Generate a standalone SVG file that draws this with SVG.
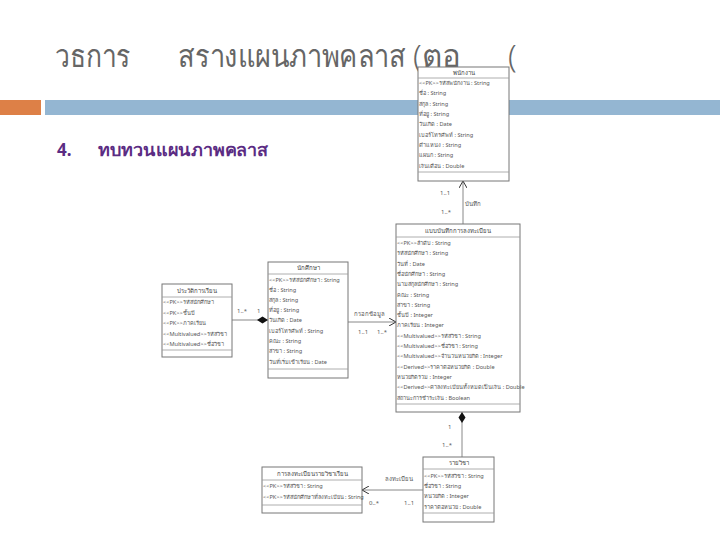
<svg xmlns="http://www.w3.org/2000/svg" width="720" height="540" viewBox="0 0 720 540">
<defs>
<style>
.title{font-family:"Noto Sans","DejaVu Sans",sans-serif;font-size:31px;fill:#666;font-weight:300}
.sub{font-family:"Noto Sans","DejaVu Sans",sans-serif;font-size:17px;fill:#5b2c83;font-weight:bold}
.box{fill:#fff;stroke:#777;stroke-width:1}
.sep{stroke:#999;stroke-width:0.8}
.cn{font-family:"Noto Sans","DejaVu Sans",sans-serif;font-size:6px;fill:#444;text-anchor:middle}
.at{font-family:"Noto Sans","DejaVu Sans",sans-serif;font-size:5.6px;fill:#555}
.lbl{font-family:"Noto Sans","DejaVu Sans",sans-serif;font-size:6px;fill:#555}
.line{stroke:#888;stroke-width:1;fill:none}
</style>
<marker id="open" markerWidth="8" markerHeight="8" refX="7" refY="4" orient="auto" markerUnits="userSpaceOnUse">
<path d="M0,0 L7,4 L0,8" fill="none" stroke="#333" stroke-width="1"/>
</marker>
<marker id="dia" markerWidth="12" markerHeight="8" refX="11" refY="4" orient="auto" markerUnits="userSpaceOnUse">
<path d="M0,4 L5.5,0.5 L11,4 L5.5,7.5 Z" fill="#111"/>
</marker>
</defs>
<rect width="720" height="540" fill="#fff"/>
<g id="header">
<text class="title" x="55" y="67" textLength="76" lengthAdjust="spacingAndGlyphs">วธการ</text>
<text class="title" x="178" y="67" textLength="228" lengthAdjust="spacingAndGlyphs">สรางแผนภาพคลาส</text>
<text class="title" x="413" y="67" textLength="48" lengthAdjust="spacingAndGlyphs">(ตอ</text>
<text class="title" x="508" y="67">(</text>
<rect x="0" y="100" width="41" height="15" fill="#dd8047"/>
<rect x="45" y="100" width="675" height="15" fill="#94b6d2"/>
<text class="sub" x="57" y="156">4.</text>
<text class="sub" x="98" y="156" textLength="170" lengthAdjust="spacingAndGlyphs">ทบทวนแผนภาพคลาส</text>
</g>
<g id="connectors">
<line class="line" x1="463" y1="224" x2="463" y2="181" marker-end="url(#open)"/>
<text class="lbl" x="440" y="195">1..1</text>
<text class="lbl" x="465" y="206">บันทึก</text>
<text class="lbl" x="441" y="214">1..*</text>
<line class="line" x1="232" y1="320" x2="268" y2="320" marker-end="url(#dia)"/>
<text class="lbl" x="237" y="313">1..*</text>
<text class="lbl" x="257" y="313">1</text>
<line class="line" x1="348" y1="322" x2="396" y2="322" marker-end="url(#open)"/>
<text class="lbl" x="354" y="316">กรอกข้อมูล</text>
<text class="lbl" x="358" y="334">1..1</text>
<text class="lbl" x="377" y="334">1..*</text>
<line class="line" x1="462" y1="457" x2="462" y2="412" marker-end="url(#dia)"/>
<text class="lbl" x="448" y="429">1</text>
<text class="lbl" x="442" y="447">1..*</text>
<line class="line" x1="423" y1="490" x2="362" y2="490" marker-end="url(#open)"/>
<text class="lbl" x="385" y="481">ลงทะเบียน</text>
<text class="lbl" x="369" y="505">0..*</text>
<text class="lbl" x="404" y="505">1..1</text>
</g>
<g id="employee">
<rect class="box" x="418" y="67" width="91" height="114"/>
<text class="cn" x="463.5" y="74.5">พนักงาน</text>
<line class="sep" x1="418" y1="78" x2="509" y2="78"/>
<text class="at" x="419" y="85">&lt;&lt;PK&gt;&gt;รหัสพนักงาน : String</text>
<text class="at" x="419" y="95">ชื่อ : String</text>
<text class="at" x="419" y="105.5">สกุล : String</text>
<text class="at" x="419" y="116">ที่อยู่ : String</text>
<text class="at" x="419" y="126">วันเกิด : Date</text>
<text class="at" x="419" y="136.5">เบอร์โทรศัพท์ : String</text>
<text class="at" x="419" y="147">ตำแหน่ง : String</text>
<text class="at" x="419" y="157">แผนก : String</text>
<text class="at" x="419" y="167.5">เงินเดือน : Double</text>
<line class="sep" x1="418" y1="172" x2="509" y2="172"/>
</g>
<g id="registration">
<rect class="box" x="396" y="224" width="124" height="188"/>
<text class="cn" x="458" y="232.5">แบบบันทึกการลงทะเบียน</text>
<line class="sep" x1="396" y1="237" x2="520" y2="237"/>
<text class="at" x="397" y="245">&lt;&lt;PK&gt;&gt;ลำดับ : String</text>
<text class="at" x="397" y="255.3">รหัสนักศึกษา : String</text>
<text class="at" x="397" y="265.6">วันที่ : Date</text>
<text class="at" x="397" y="275.9">ชื่อนักศึกษา : String</text>
<text class="at" x="397" y="286.2">นามสกุลนักศึกษา : String</text>
<text class="at" x="397" y="296.5">คณะ : String</text>
<text class="at" x="397" y="306.8">สาขา : String</text>
<text class="at" x="397" y="317.1">ชั้นปี : Integer</text>
<text class="at" x="397" y="327.4">ภาคเรียน : Integer</text>
<text class="at" x="397" y="337.7">&lt;&lt;Multivalued&gt;&gt;รหัสวิชา : String</text>
<text class="at" x="397" y="348">&lt;&lt;Multivalued&gt;&gt;ชื่อวิชา : String</text>
<text class="at" x="397" y="358.3">&lt;&lt;Multivalued&gt;&gt;จำนวนหน่วยกิต : Integer</text>
<text class="at" x="397" y="368.6">&lt;&lt;Derived&gt;&gt;ราคาต่อหน่วยกิต : Double</text>
<text class="at" x="397" y="378.9">หน่วยกิตรวม : Integer</text>
<text class="at" x="397" y="389.2">&lt;&lt;Derived&gt;&gt;ค่าลงทะเบียนทั้งหมดเป็นเงิน : Double</text>
<text class="at" x="397" y="399.5">สถานะการชำระเงิน : Boolean</text>
<line class="sep" x1="396" y1="404" x2="520" y2="404"/>
</g>
<g id="history">
<rect class="box" x="162" y="284" width="70" height="73"/>
<text class="cn" x="197" y="292.5">ประวัติการเรียน</text>
<line class="sep" x1="162" y1="297" x2="232" y2="297"/>
<text class="at" x="163" y="304">&lt;&lt;PK&gt;&gt;รหัสนักศึกษา</text>
<text class="at" x="163" y="314.5">&lt;&lt;PK&gt;&gt;ชั้นปี</text>
<text class="at" x="163" y="325">&lt;&lt;PK&gt;&gt;ภาคเรียน</text>
<text class="at" x="163" y="335.5">&lt;&lt;Multivalued&gt;&gt;รหัสวิชา</text>
<text class="at" x="163" y="346">&lt;&lt;Multivalued&gt;&gt;ชื่อวิชา</text>
<line class="sep" x1="162" y1="350" x2="232" y2="350"/>
</g>
<g id="student">
<rect class="box" x="268" y="262" width="80" height="116"/>
<text class="cn" x="308" y="270">นักศึกษา</text>
<line class="sep" x1="268" y1="274" x2="348" y2="274"/>
<text class="at" x="269" y="281.5">&lt;&lt;PK&gt;&gt;รหัสนักศึกษา : String</text>
<text class="at" x="269" y="291.5">ชื่อ : String</text>
<text class="at" x="269" y="301.5">สกุล : String</text>
<text class="at" x="269" y="311.5">ที่อยู่ : String</text>
<text class="at" x="269" y="322">วันเกิด : Date</text>
<text class="at" x="269" y="332.5">เบอร์โทรศัพท์ : String</text>
<text class="at" x="269" y="343">คณะ : String</text>
<text class="at" x="269" y="353">สาขา : String</text>
<text class="at" x="269" y="363.5">วันที่เริ่มเข้าเรียน : Date</text>
<line class="sep" x1="268" y1="369" x2="348" y2="369"/>
</g>
<g id="course">
<rect class="box" x="423" y="457" width="71" height="65"/>
<text class="cn" x="458.5" y="465">รายวิชา</text>
<line class="sep" x1="423" y1="469" x2="494" y2="469"/>
<text class="at" x="424" y="477.5">&lt;&lt;PK&gt;&gt;รหัสวิชา : String</text>
<text class="at" x="424" y="488">ชื่อวิชา : String</text>
<text class="at" x="424" y="498">หน่วยกิต : Integer</text>
<text class="at" x="424" y="508.5">ราคาต่อหน่วย : Double</text>
<line class="sep" x1="423" y1="513" x2="494" y2="513"/>
</g>
<g id="enrollment">
<rect class="box" x="262" y="467" width="100" height="46"/>
<text class="cn" x="312" y="475.5">การลงทะเบียนรายวิชาเรียน</text>
<line class="sep" x1="262" y1="480" x2="362" y2="480"/>
<text class="at" x="263" y="488">&lt;&lt;PK&gt;&gt;รหัสวิชา : String</text>
<text class="at" x="263" y="498.5">&lt;&lt;PK&gt;&gt;รหัสนักศึกษาที่ลงทะเบียน : String</text>
<line class="sep" x1="262" y1="505" x2="362" y2="505"/>
</g>
</svg>
